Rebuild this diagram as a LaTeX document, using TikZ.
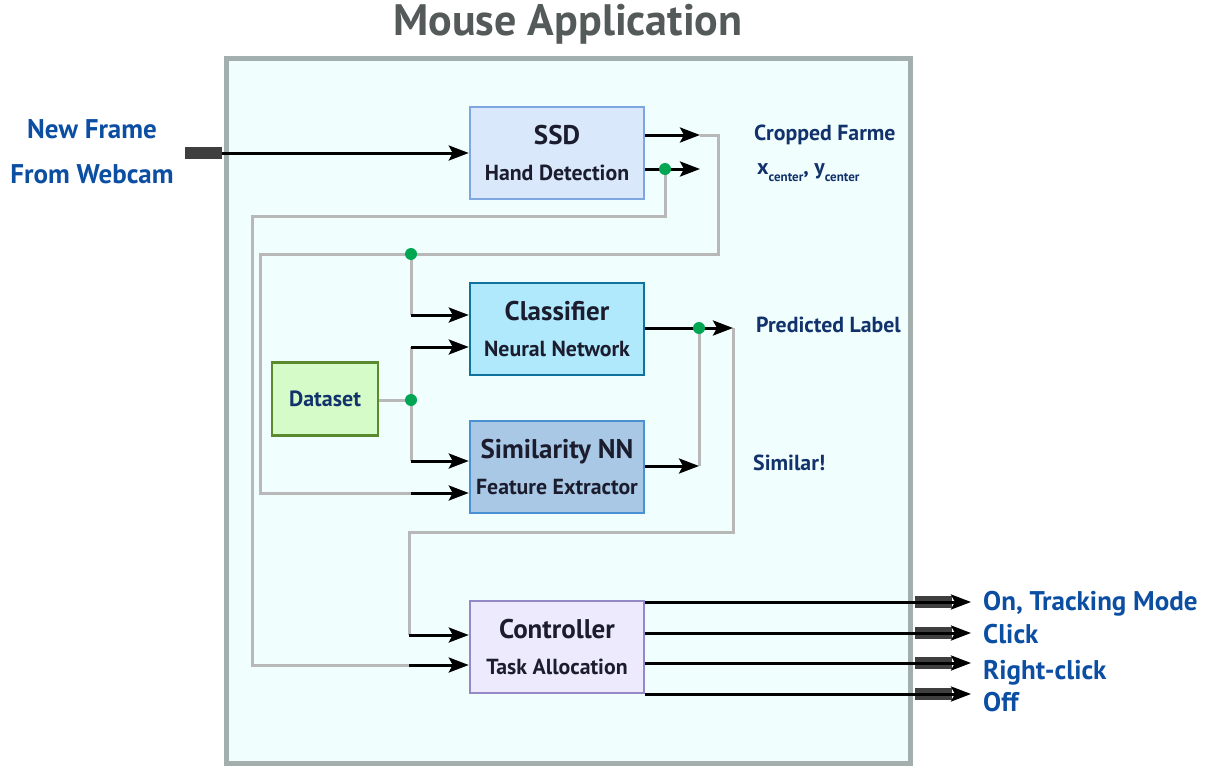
\documentclass[tikz,border=0pt]{standalone}
\usepackage{fontspec}
\setmainfont{PT Sans}
\usepackage{xcolor}
\usepackage{tikz}
\usetikzlibrary{arrows.meta,positioning}

\definecolor{titlegray}{HTML}{535A59}
\definecolor{framegray}{HTML}{A3AFAC}
\definecolor{framefill}{HTML}{F0FEFE}
\definecolor{inblue}{HTML}{0B4EA2}
\definecolor{navy}{HTML}{12326B}
\definecolor{boxtext}{HTML}{1B1D2E}
\definecolor{wiregray}{HTML}{B8B8B8}
\definecolor{dotgreen}{HTML}{00A651}
\definecolor{bargray}{HTML}{3F3F3F}

\begin{document}
\begin{tikzpicture}[x=1pt, y=-1pt, every node/.style={font=\bfseries}]
  % Styles
  \tikzstyle{block}=[rectangle, draw, line width=2.5pt, minimum width=174pt, minimum height=92pt, align=center, text=boxtext, inner sep=0pt, font={\bfseries\fontsize{21.8}{36}\selectfont}]
  \tikzstyle{arr}=[-{Stealth[length=20pt, width=15pt, inset=4pt]}, line width=3pt, black]
  \tikzstyle{wire}=[line width=3pt, wiregray]
  \tikzstyle{bar}=[line width=12pt, bargray]
  \tikzstyle{dot}=[circle, fill=dotgreen, inner sep=0pt, minimum size=12pt]
  \tikzstyle{iolabel}=[text=inblue, font={\bfseries\fontsize{27}{32}\selectfont}, inner sep=0pt]
  \tikzstyle{sig}=[text=navy, font={\bfseries\fontsize{21.8}{26}\selectfont}, inner sep=0pt, anchor=base west]
  \newcommand{\boxtitle}[1]{{\fontsize{27}{36}\selectfont #1}}

  \useasboundingbox (0,0) rectangle (1211,768);

  % Frame and title
  \node[draw=framegray, fill=framefill, line width=5pt, minimum width=684pt, minimum height=704pt, inner sep=0pt] (app) at (568,411) {};
  \node[text=titlegray, font={\bfseries\fontsize{44}{50}\selectfont}] (title) at (568,24) {Mouse Application};

  % Blocks
  \node[block, fill={rgb,255:red,218;green,232;blue,252}, draw={rgb,255:red,126;green,166;blue,224}] (ssd) at (557,153) {\boxtitle{SSD}\\Hand Detection};
  \node[block, fill={rgb,255:red,176;green,232;blue,252}, draw={rgb,255:red,16;green,115;blue,158}] (cls) at (557,329) {\boxtitle{Classifier}\\Neural Network};
  \node[block, fill={rgb,255:red,169;green,200;blue,230}, draw={rgb,255:red,74;green,145;blue,212}] (sim) at (557,467) {\boxtitle{Similarity NN}\\Feature Extractor};
  \node[block, fill={rgb,255:red,238;green,234;blue,253}, draw={rgb,255:red,148;green,136;blue,198}] (ctrl) at (557,647) {\boxtitle{Controller}\\Task Allocation};
  \node[block, minimum width=106pt, minimum height=73pt, fill={rgb,255:red,213;green,252;blue,200}, draw={rgb,255:red,91;green,138;blue,46}, text=navy, font={\bfseries\fontsize{22}{26}\selectfont}] (data) at (325,399) {Dataset};

  % Input
  \coordinate (inBar) at (185,153);
  \coordinate (inPort) at (222,153);
  \draw[bar] (inBar) -- (inPort);
  \draw[arr] (inPort) -- (ssd);
  \node[iolabel, anchor=base] (newframe) at (92,139) {New Frame};
  \node[iolabel, anchor=base] (webcam) at (92,183) {From Webcam};

  % SSD outputs
  \coordinate (cropTip) at (700,135);
  \coordinate (ctrTip) at (700,169);
  \coordinate (ctrDot) at (665,169);
  \coordinate (cropDot) at (411,254);
  \coordinate (clsIn1) at (411,315);
  \coordinate (simIn2) at (411,493);
  \coordinate (ctrlIn2) at (409,665);
  \draw[wire] (cropTip) -- (718,135) -- (718,254) -- (260,254) -- (260,493) -- (simIn2);
  \draw[wire] (cropDot) -- (clsIn1);
  \draw[wire] (ctrDot) -- (665,216) -- (252,216) -- (252,665) -- (ctrlIn2);
  \draw[arr] (ssd.east |- cropTip) -- (cropTip);
  \draw[arr] (ssd.east |- ctrTip) -- (ctrTip);
  \draw[arr] (clsIn1) -- (cls.west |- clsIn1);
  \draw[arr] (simIn2) -- (sim.west |- simIn2);
  \draw[arr] (ctrlIn2) -- (ctrl.west |- ctrlIn2);

  % Dataset
  \coordinate (dataDot) at (411,400);
  \coordinate (clsIn2) at (411,347);
  \coordinate (simIn1) at (411,461);
  \draw[wire] (data.east |- dataDot) -- (dataDot);
  \draw[wire] (clsIn2) -- (simIn1);
  \draw[arr] (clsIn2) -- (cls.west |- clsIn2);
  \draw[arr] (simIn1) -- (sim.west |- simIn1);

  % Classifier and similarity outputs
  \coordinate (labelTip) at (733,328);
  \coordinate (labelDot) at (699,328);
  \coordinate (simTip) at (699,466);
  \coordinate (ctrlIn1) at (409,635);
  \draw[wire] (labelDot) -- (simTip);
  \draw[wire] (labelTip) -- (733,532) -- (409,532) -- (ctrlIn1);
  \draw[arr] (cls.east |- labelTip) -- (labelTip);
  \draw[arr] (sim.east |- simTip) -- (simTip);
  \draw[arr] (ctrlIn1) -- (ctrl.west |- ctrlIn1);

  % Junctions
  \node[dot] (d1) at (ctrDot) {};
  \node[dot] (d2) at (cropDot) {};
  \node[dot] (d3) at (dataDot) {};
  \node[dot] (d4) at (labelDot) {};

  % Signal labels
  \node[sig] (crop) at (754,140) {Cropped Farme};
  \node[sig] (center) at (757,174) {x\raisebox{-7pt}{\fontsize{13}{15}\selectfont center}, y\raisebox{-7pt}{\fontsize{13}{15}\selectfont center}};
  \node[sig] (predicted) at (756,332) {Predicted Label};
  \node[sig] (similar) at (753,470) {Similar!};

  % Controller outputs
  \foreach \y/\ly/\txt [count=\i] in {602/610/{On, Tracking Mode}, 633/643/Click, 663/679/Right-click, 694/711/Off} {
    \coordinate (outBar\i) at (915,\y);
    \coordinate (outTip\i) at (971,\y);
    \draw[bar] (outBar\i) -- (952,\y);
    \draw[arr] (ctrl.east |- outTip\i) -- (outTip\i);
    \node[iolabel, anchor=base west] (out\i) at (983,\ly) {\txt};
  }
\end{tikzpicture}
\end{document}
